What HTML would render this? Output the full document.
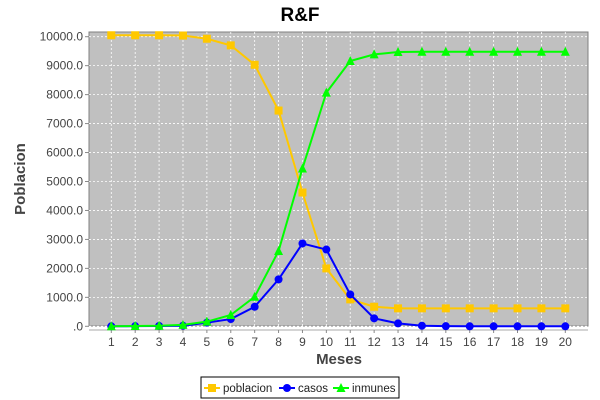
<!DOCTYPE html>
<html><head><meta charset="utf-8"><style>
body{margin:0;background:#fff;}
svg{display:block;font-family:"Liberation Sans",sans-serif;}
</style></head><body>
<svg id="chart" width="600" height="400">
<rect width="600" height="400" fill="#fff"/>
<text x="300" y="21" text-anchor="middle" font-size="19" font-weight="bold">R&amp;F</text>
<rect x="89" y="32" width="499" height="294" fill="#c0c0c0" stroke="#808080"/>
<g id="grid"></g><g id="axes"></g><g id="series"></g>
<text x="339" y="364" text-anchor="middle" font-size="15" font-weight="bold" fill="#444">Meses</text>
<text transform="translate(25,179) rotate(-90)" text-anchor="middle" font-size="15" font-weight="bold" fill="#444">Poblacion</text>
<g>
<rect x="201" y="377" width="198" height="21" fill="#fff" stroke="#000"/>
<g id="legend"></g>
</g>
</svg>
<script>
const categories=["1","2","3","4","5","6","7","8","9","10","11","12","13","14","15","16","17","18","19","20"];
const poblacion=[10050,10050,10050,10040,9930,9700,9030,7450,4620,2000,930,675,620,620,620,620,620,620,620,620];
const casos=[0,5,10,20,125,250,675,1620,2860,2650,1100,275,100,20,5,0,0,0,0,0];
const inmunes=[0,10,20,50,160,390,1020,2600,5450,8070,9160,9390,9470,9480,9480,9480,9480,9480,9480,9480];
const yTicks=[0,1000,2000,3000,4000,5000,6000,7000,8000,9000,10000];
const seriesNames=["poblacion","casos","inmunes"];
const seriesColors=["#ffc800","#0000ff","#00ff00"];
const NS="http://www.w3.org/2000/svg";
const xPos=i=>111.3+i*(565.3-111.3)/(categories.length-1);
const yPos=v=>326.3-v*(326.3-36.7)/10000;
function mk(t,a,p){const e=document.createElementNS(NS,t);for(const k in a)e.setAttribute(k,a[k]);p.appendChild(e);return e;}
const grid=document.getElementById('grid'),axes=document.getElementById('axes'),ser=document.getElementById('series'),leg=document.getElementById('legend');
yTicks.forEach(v=>{const y=yPos(v);
 const g=mk('line',{x1:89,x2:588,y1:y,y2:y,stroke:'#fff','stroke-dasharray':'2,2','stroke-width':0.8},grid);
 
 
 mk('line',{x1:85,x2:89,y1:y,y2:y,stroke:'#888'},axes);
 const t=mk('text',{x:83,y:y+4,'text-anchor':'end','font-size':12,fill:'#444'},axes);
 t.textContent=v===0?'.0':v.toFixed(1);
 
 
});
mk('line',{x1:89,x2:588,y1:330,y2:330,stroke:'#aaa'},axes);
categories.forEach((c,i)=>{const x=xPos(i);
 const g=mk('line',{x1:x,x2:x,y1:32,y2:326,stroke:'#fff','stroke-dasharray':'2,2','stroke-width':0.8},grid);
 
 
 mk('line',{x1:x,x2:x,y1:330,y2:333,stroke:'#888'},axes);
 const t=mk('text',{x:x,y:346,'text-anchor':'middle','font-size':12,fill:'#444'},axes);
 t.textContent=c;
 
 
});
function marker(type,x,y,col,p){
 if(type===0)return mk('rect',{x:x-4,y:y-4,width:8,height:8,fill:col},p);
 if(type===1)return mk('circle',{cx:x,cy:y,r:4,fill:col},p);
 return mk('polygon',{points:`${x},${y-5} ${x+4.5},${y+4} ${x-4.5},${y+4}`,fill:col},p);
}
[poblacion,casos,inmunes].forEach((data,s)=>{
 const g=mk('g',{},ser);
 
 
 const l=mk('polyline',{points:data.map((v,i)=>xPos(i)+','+yPos(v)).join(' '),fill:'none',stroke:seriesColors[s],'stroke-width':2},g);
 
 
 data.forEach((v,i)=>{const m=marker(s,xPos(i),yPos(v),seriesColors[s],g);
  
  });
});
const lx=[204,279,333];
seriesNames.forEach((n,s)=>{const g=mk('g',{},leg);
 
 
 mk('line',{x1:lx[s],x2:lx[s]+16,y1:388,y2:388,stroke:seriesColors[s],'stroke-width':2},g);
 marker(s,lx[s]+8,388,seriesColors[s],g);
 const t=mk('text',{x:lx[s]+19,y:392,'font-size':11.5,fill:'#222'},g);t.textContent=n;
});
</script>
</body></html>
